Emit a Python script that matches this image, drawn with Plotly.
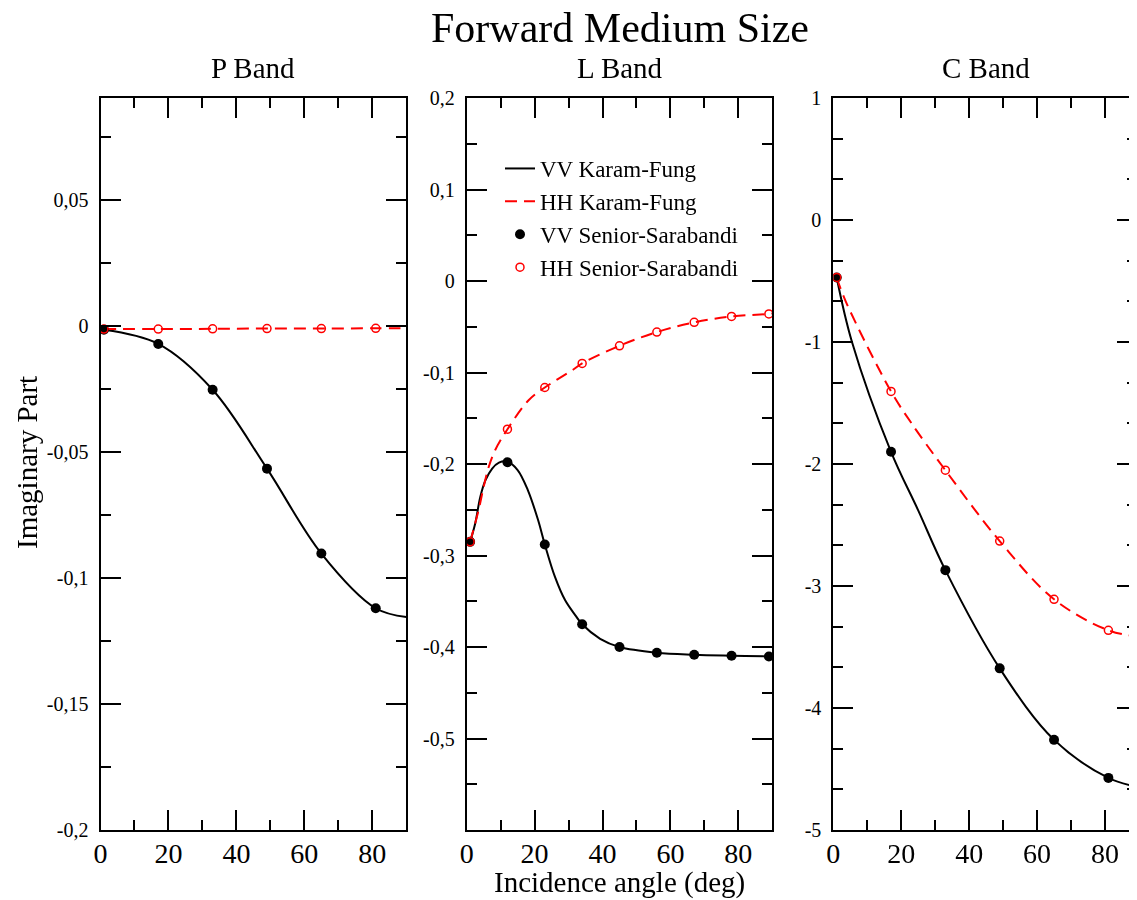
import plotly.graph_objects as go

# ---------------- data ----------------
title_text = "Forward Medium Size"
panel_titles = ["P Band", "L Band", "C Band"]
x_title = "Incidence angle (deg)"
y_title = "Imaginary Part"
legend_names = ["VV Karam-Fung", "HH Karam-Fung", "VV Senior-Sarabandi", "HH Senior-Sarabandi"]

# P band
p_ss_angles = [1, 17, 33, 49, 65, 81]
p_vv_ss = [-0.0015, -0.0071, -0.0253, -0.0566, -0.0903, -0.1120]
p_hh_ss = [-0.0012, -0.0012, -0.0011, -0.0010, -0.0010, -0.0009]
p_kf_angles = [1, 17, 33, 49, 65, 81, 90]
p_vv_kf = [-0.0015, -0.0071, -0.0253, -0.0566, -0.0903, -0.1120, -0.1155]
p_hh_kf = [-0.0012, -0.0012, -0.0011, -0.0010, -0.0010, -0.0009, -0.0009]

# L band
l_ss_angles = [1, 12, 23, 34, 45, 56, 67, 78, 89]
l_vv_ss = [-0.2851, -0.1981, -0.2879, -0.3752, -0.4000, -0.4062, -0.4084, -0.4095, -0.4103]
l_hh_ss = [-0.2851, -0.1620, -0.1164, -0.0901, -0.0708, -0.0558, -0.0452, -0.0387, -0.0360]
l_vv_kf_angles = [1, 2.5, 4, 5.5, 7.5, 9.5, 12, 15, 18, 21, 23, 26, 29, 32, 34, 39.3, 45, 56, 67, 78, 89, 90]
l_vv_kf = [-0.2851, -0.265, -0.236, -0.218, -0.205, -0.1985, -0.1975, -0.2066, -0.2285, -0.261, -0.2879,
           -0.3234, -0.349, -0.3654, -0.3752, -0.391, -0.4000, -0.4062, -0.4084, -0.4095, -0.4103, -0.4103]
l_hh_kf_angles = [1, 3.5, 5, 6.5, 8.4, 12, 18.3, 23, 31.3, 34, 45, 56, 67, 78, 89, 90]
l_hh_kf = [-0.2851, -0.2504, -0.2248, -0.203, -0.1847, -0.1620, -0.130, -0.1164, -0.097, -0.0901,
           -0.0708, -0.0558, -0.0452, -0.0387, -0.0360, -0.0355]

# C band
c_ss_angles = [1, 17, 33, 49, 65, 81]
c_vv_ss = [-0.471, -1.900, -2.870, -3.675, -4.261, -4.573]
c_hh_ss = [-0.471, -1.405, -2.051, -2.632, -3.109, -3.363]
c_vv_kf_angles = [1, 5.5, 17, 25, 33, 49, 65, 81, 90]
c_vv_kf = [-0.471, -1.000, -1.900, -2.380, -2.870, -3.675, -4.261, -4.573, -4.650]
c_hh_kf_angles = [1, 3.65, 17, 23, 33, 49, 65, 81, 90]
c_hh_kf = [-0.471, -0.667, -1.405, -1.665, -2.051, -2.632, -3.109, -3.363, -3.415]

# tick labels
x_tickvals = [0, 20, 40, 60, 80]
p_tickvals = [-0.2, -0.15, -0.1, -0.05, 0, 0.05]
p_ticktext = ["-0,2", "-0,15", "-0,1", "-0,05", "0", "0,05"]
l_tickvals = [-0.5, -0.4, -0.3, -0.2, -0.1, 0, 0.1, 0.2]
l_ticktext = ["-0,5", "-0,4", "-0,3", "-0,2", "-0,1", "0", "0,1", "0,2"]
c_tickvals = [-5, -4, -3, -2, -1, 0, 1]
c_ticktext = ["-5", "-4", "-3", "-2", "-1", "0", "1"]

# ---------------- figure ----------------
FONT = "Liberation Serif, Times New Roman, serif"
OFF = 8                      # page body margin
W, H = 1137 - OFF, 900 - OFF


def fx(p):
    return (p - OFF) / W


def fy(p):
    return 1 - (p - OFF) / H


panels = [
    dict(kf_vv=(p_kf_angles, p_vv_kf), kf_hh=(p_kf_angles, p_hh_kf),
         ss_angles=p_ss_angles, ss_vv=p_vv_ss, ss_hh=p_hh_ss),
    dict(kf_vv=(l_vv_kf_angles, l_vv_kf), kf_hh=(l_hh_kf_angles, l_hh_kf),
         ss_angles=l_ss_angles, ss_vv=l_vv_ss, ss_hh=l_hh_ss),
    dict(kf_vv=(c_vv_kf_angles, c_vv_kf), kf_hh=(c_hh_kf_angles, c_hh_kf),
         ss_angles=c_ss_angles, ss_vv=c_vv_ss, ss_hh=c_hh_ss),
]

fig = go.Figure()
for i, pd_ in enumerate(panels):
    xa = "x" if i == 0 else f"x{i+1}"
    ya = "y" if i == 0 else f"y{i+1}"
    show = i == 0
    fig.add_trace(go.Scatter(x=pd_["kf_vv"][0], y=pd_["kf_vv"][1], mode="lines",
                             line=dict(color="black", width=2, shape="spline", smoothing=1.0),
                             name=legend_names[0], showlegend=show, xaxis=xa, yaxis=ya))
    fig.add_trace(go.Scatter(x=pd_["kf_hh"][0], y=pd_["kf_hh"][1], mode="lines",
                             line=dict(color="red", width=2, dash="12px,7px", shape="spline", smoothing=1.0),
                             name=legend_names[1], showlegend=show, xaxis=xa, yaxis=ya))
    fig.add_trace(go.Scatter(x=pd_["ss_angles"], y=pd_["ss_vv"], mode="markers",
                             marker=dict(symbol="circle", size=10, color="black"),
                             name=legend_names[2], showlegend=show, xaxis=xa, yaxis=ya))
    fig.add_trace(go.Scatter(x=pd_["ss_angles"], y=pd_["ss_hh"], mode="markers",
                             marker=dict(symbol="circle-open", size=8, color="red", line=dict(width=1.5, color="red")),
                             name=legend_names[3], showlegend=show, xaxis=xa, yaxis=ya))

# hidden helper trace for right-side tick axis of C band
fig.add_trace(go.Scatter(x=c_ss_angles, y=c_vv_ss, mode="markers", opacity=0,
                         showlegend=False, hoverinfo="skip", xaxis="x3", yaxis="y4"))

tick_common = dict(showline=True, linecolor="black", linewidth=2, ticks="inside", ticklen=20,
                   tickwidth=2, tickcolor="black", showgrid=False, zeroline=False, automargin=False)

x_domains = [(fx(100.5), fx(406.3)), (fx(466.7), fx(772.3)), (fx(833.3), 1.0)]
x_ranges = [[0, 90], [0, 90], [0, (1137 - 833.3) / 3.396]]
y_dom = [fy(830), fy(98)]

layout = dict(
    template="none",
    width=W, height=H, margin=dict(l=0, r=0, t=0, b=0, pad=0, autoexpand=False),
    paper_bgcolor="white", plot_bgcolor="white",
    font=dict(family=FONT, color="black"),
    showlegend=True,
    legend=dict(x=fx(500), y=fy(147), xanchor="left", yanchor="top",
                bgcolor="rgba(0,0,0,0)", borderwidth=0,
                font=dict(family=FONT, size=23, color="black"),
                tracegroupgap=0),
    title=dict(text=title_text, x=fx(620), y=fy(27), xanchor="center", yanchor="middle",
               xref="paper", yref="container",
               font=dict(family=FONT, size=42, color="black")),
)

y_specs = [
    (p_tickvals, p_ticktext, [-0.2, 0.0905], 0.025),
    (l_tickvals, l_ticktext, [-0.6, 0.2], 0.05),
    (c_tickvals, c_ticktext, [-5, 1], 1 / 3),
]

for i in range(3):
    xk = "xaxis" if i == 0 else f"xaxis{i+1}"
    yk = "yaxis" if i == 0 else f"yaxis{i+1}"
    ya = "y" if i == 0 else f"y{i+1}"
    xa = "x" if i == 0 else f"x{i+1}"
    layout[xk] = dict(tick_common, domain=list(x_domains[i]), range=x_ranges[i], anchor=ya,
                      mirror="ticks", tickmode="array", tickvals=x_tickvals,
                      minor=dict(dtick=10, tick0=0, ticklen=10, tickwidth=2, tickcolor="black",
                                 ticks="inside", showgrid=False),
                      ticklabelstandoff=-3,
                      tickfont=dict(family=FONT, size=28, color="black"))
    tv, tt, rg, mdt = y_specs[i]
    layout[yk] = dict(tick_common, domain=y_dom, range=rg, anchor=xa,
                      mirror=("ticks" if i < 2 else False), tickmode="array", tickvals=tv, ticktext=tt,
                      minor=dict(dtick=mdt, tick0=0, ticklen=10, tickwidth=2, tickcolor="black",
                                 ticks="inside", showgrid=False),
                      ticklabelstandoff=6,
                      tickfont=dict(family=FONT, size=20, color="black"))

c_tv, c_tt, c_rg, c_mdt = y_specs[2]
layout["yaxis4"] = dict(overlaying="y3", side="right", anchor="x3", range=c_rg,
                        showline=False, showgrid=False, zeroline=False, showticklabels=False,
                        automargin=False,
                        ticks="inside", ticklen=20, tickwidth=2, tickcolor="black",
                        tickmode="array", tickvals=c_tv,
                        minor=dict(dtick=c_mdt, tick0=0, ticklen=10, tickwidth=2, tickcolor="black",
                                   ticks="inside", showgrid=False))

annotations = []
centers = [(100.5 + 406.3) / 2, (466.7 + 772.3) / 2, (833.3 + 1139) / 2]
for c, t in zip(centers, panel_titles):
    annotations.append(dict(text=t, x=fx(c), y=fy(68), xref="paper", yref="paper",
                            xanchor="center", yanchor="middle", showarrow=False,
                            font=dict(family=FONT, size=29, color="black")))
annotations.append(dict(text=x_title, x=fx(619.5), y=fy(882), xref="paper", yref="paper",
                        xanchor="center", yanchor="middle", showarrow=False,
                        font=dict(family=FONT, size=29, color="black")))
annotations.append(dict(text=y_title, x=fx(27), y=fy(463), xref="paper", yref="paper",
                        xanchor="center", yanchor="middle", showarrow=False, textangle=-90,
                        font=dict(family=FONT, size=29, color="black")))
layout["annotations"] = annotations

fig.update_layout(**layout)
fig.write_html("out.html")
